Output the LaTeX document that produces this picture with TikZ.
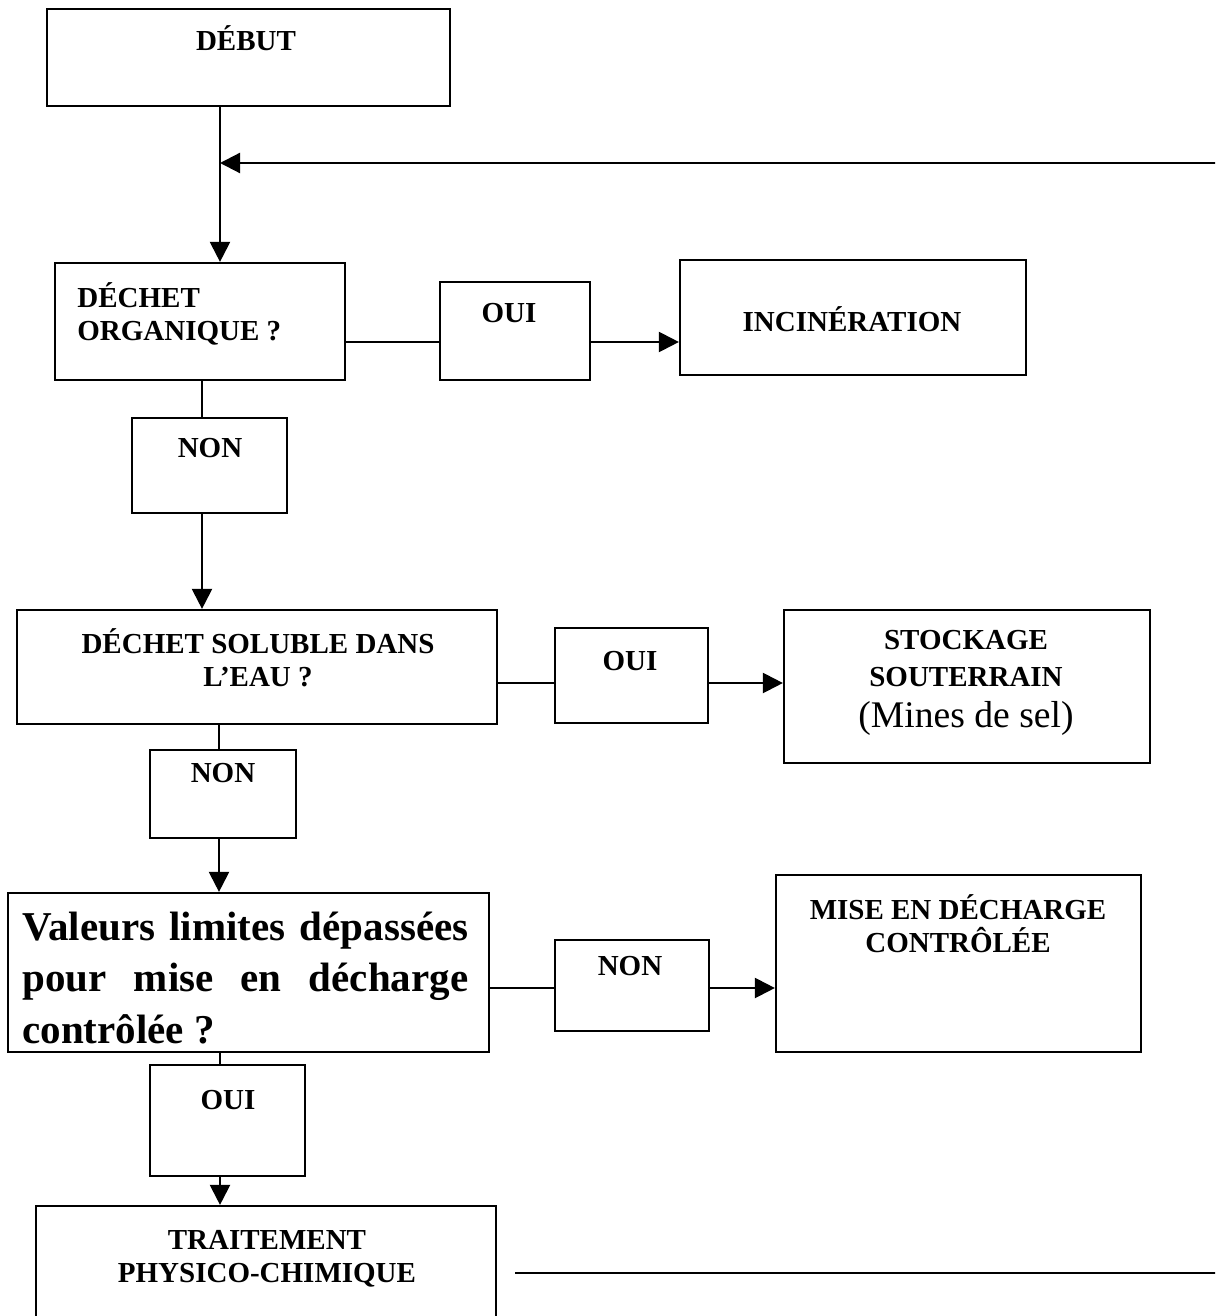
\documentclass[tikz,border=0pt]{standalone}
\usepackage{fontspec}
\setmainfont{Liberation Serif}
\usetikzlibrary{arrows.meta,fit}
\newcommand\clines[1]{\vtop{\halign{\hfil##\hfil\cr#1\crcr}}}
\newcommand\llines[1]{\vtop{\halign{##\hfil\cr#1\crcr}}}
\tikzset{
  box/.style={draw, line width=1.1pt, inner sep=0pt},
  lbl/.style={inner sep=0pt, anchor=base, font=\bfseries\fontsize{14.5}{16.5}\selectfont},
  conn/.style={line width=1.1pt},
  arr/.style={conn, -{Triangle[length=10pt,width=10pt]}}
}
\begin{document}
\begin{tikzpicture}[x=0.5pt,y=-0.5pt]
\clip (0,0) rectangle (1215,1316);
\fill[white] (0,0) rectangle (1215,1316);
% boxes
\node[box, fit={(47,9) (450,106)}] (debut) {};
\node[box, fit={(55,263) (345,380)}] (org) {};
\node[box, fit={(440,282) (590,380)}] (oui1) {};
\node[box, fit={(680,260) (1026,375)}] (incin) {};
\node[box, fit={(132,418) (287,513)}] (non1) {};
\node[box, fit={(17,610) (497,724)}] (sol) {};
\node[box, fit={(555,628) (708,723)}] (oui2) {};
\node[box, fit={(784,610) (1150,763)}] (stock) {};
\node[box, fit={(150,750) (296,838)}] (non2) {};
\node[box, fit={(8,893) (489,1052)}] (val) {};
\node[box, fit={(555,940) (709,1031)}] (non3) {};
\node[box, fit={(776,875) (1141,1052)}] (mise) {};
\node[box, fit={(150,1065) (305,1176)}] (oui3) {};
\node[box, fit={(36,1206) (496,1340)}] (trait) {};
% texts
\node[lbl] (tdebut) at (246,51) {DÉBUT};
\node[lbl, anchor=base west] (torg) at (77,307) {\llines{DÉCHET\cr ORGANIQUE ?}};
\node[lbl] (toui1) at (509,322) {OUI};
\node[lbl] (tincin) at (852,331) {INCINÉRATION};
\node[lbl] (tnon1) at (210,457) {NON};
\node[lbl] (tsol) at (258,653) {\clines{DÉCHET SOLUBLE DANS\cr L’EAU ?}};
\node[lbl] (toui2) at (630,670) {OUI};
\node[lbl, font=\bfseries\fontsize{14.5}{18.5}\selectfont] (tstock) at (966,649)
  {\clines{STOCKAGE\cr SOUTERRAIN\cr\noalign{\vskip 2pt}{\mdseries\fontsize{18.8}{22}\selectfont (Mines de sel)}}};
\node[lbl] (tnon2) at (223,782) {NON};
\node[lbl, anchor=base west] (tval) at (22,940)
  {\parbox[t]{223pt}{\bfseries\fontsize{20.5}{25.75}\selectfont Valeurs\hfill limites\hfill dépassées\\
   pour\hfill mise\hfill en\hfill décharge\\ contrôlée ?}};
\node[lbl] (tnon3) at (630,975) {NON};
\node[lbl] (tmise) at (958,919) {\clines{MISE EN DÉCHARGE\cr CONTRÔLÉE}};
\node[lbl] (toui3) at (228,1109) {OUI};
\node[lbl] (ttrait) at (267,1249) {\clines{TRAITEMENT\cr PHYSICO-CHIMIQUE}};
% connector coordinates
\coordinate (v1) at (220,0);
\coordinate (fb) at (1225,163);
\coordinate (r1) at (0,342);
\coordinate (v2) at (202,0);
\coordinate (r2) at (0,683);
\coordinate (v3) at (219,0);
\coordinate (r3) at (0,988);
\coordinate (v4) at (220,0);
\coordinate (tl) at (515,1273);
\coordinate (tr) at (1225,1273);
% connectors
\draw[arr] (debut.south -| v1) -- (org.north -| v1);
\draw[arr] (fb) -- (fb -| v1);
\draw[conn] (org.east |- r1) -- (oui1.west |- r1);
\draw[arr] (oui1.east |- r1) -- (incin.west |- r1);
\draw[conn] (org.south -| v2) -- (non1.north -| v2);
\draw[arr] (non1.south -| v2) -- (sol.north -| v2);
\draw[conn] (sol.east |- r2) -- (oui2.west |- r2);
\draw[arr] (oui2.east |- r2) -- (stock.west |- r2);
\draw[conn] (sol.south -| v3) -- (non2.north -| v3);
\draw[arr] (non2.south -| v3) -- (val.north -| v3);
\draw[conn] (val.east |- r3) -- (non3.west |- r3);
\draw[arr] (non3.east |- r3) -- (mise.west |- r3);
\draw[conn] (val.south -| v4) -- (oui3.north -| v4);
\draw[arr] (oui3.south -| v4) -- (trait.north -| v4);
\draw[conn] (tl) -- (tr);
\end{tikzpicture}
\end{document}
